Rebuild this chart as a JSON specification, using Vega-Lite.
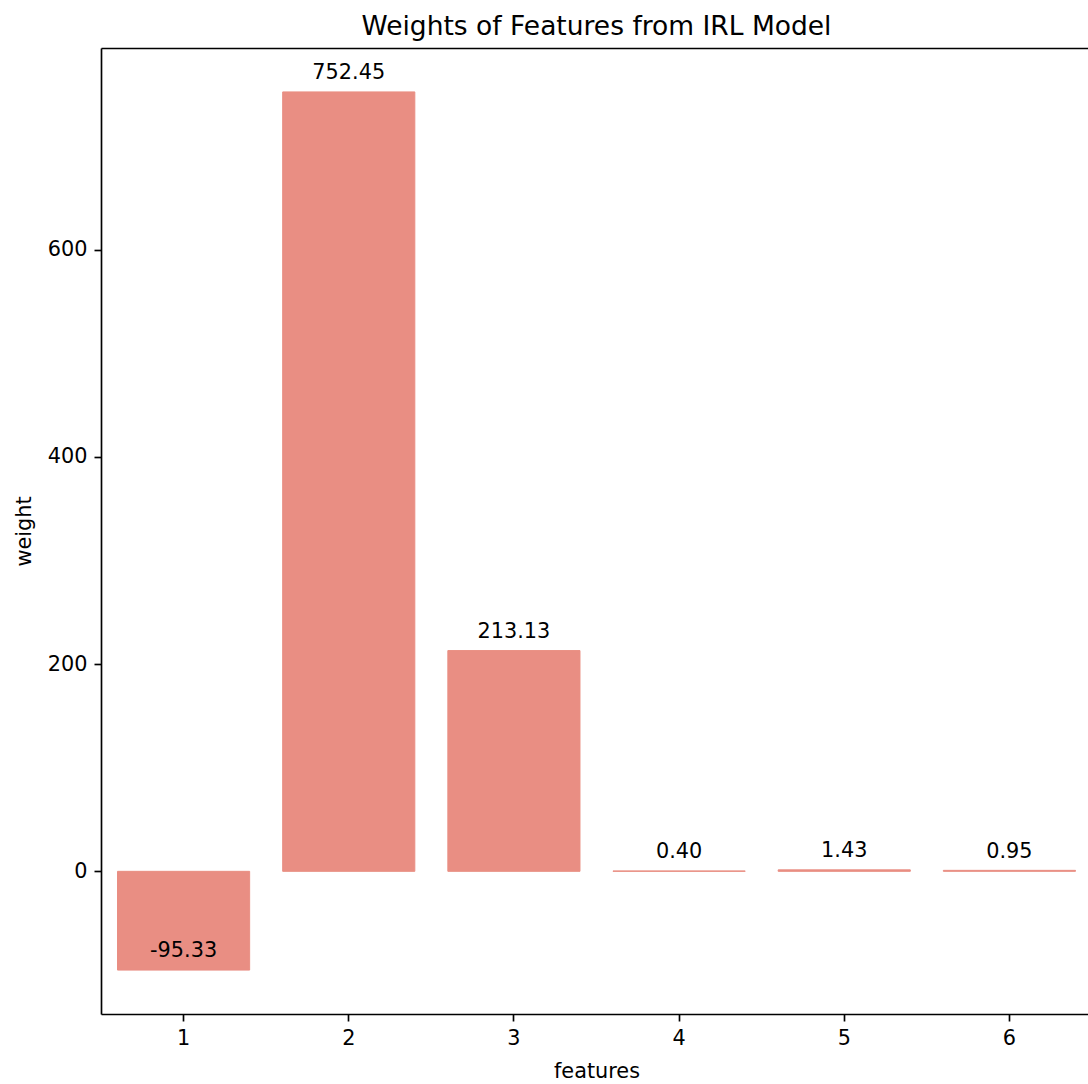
{
  "$schema": "https://vega.github.io/schema/vega-lite/v6.json",
  "autosize": {"type": "none"},
  "padding": {"left": 101, "top": 48, "right": 0, "bottom": 70},
  "width": 987,
  "height": 966,
  "background": "white",
  "config": {
    "view": {"stroke": null},
    "font": "DejaVu Sans",
    "locale": {
      "number": {"decimal": ".", "thousands": ",", "grouping": [3], "currency": ["$", ""], "minus": "-"}
    },
    "axis": {
      "grid": false,
      "domainColor": "#000000",
      "domainWidth": 1.67,
      "tickColor": "#000000",
      "tickWidth": 1.67,
      "tickSize": 7,
      "labelPadding": 7,
      "labelFont": "DejaVu Sans",
      "labelFontSize": 20.8,
      "labelColor": "#000000",
      "titleFont": "DejaVu Sans",
      "titleFontSize": 20.8,
      "titleFontWeight": "normal",
      "titleColor": "#000000"
    }
  },
  "title": {
    "text": "Weights of Features from IRL Model",
    "font": "DejaVu Sans",
    "fontSize": 26.5,
    "fontWeight": "normal",
    "color": "#000000",
    "anchor": "middle",
    "offset": 8,
    "dx": 2
  },
  "data": {
    "values": [
      {"feature": "1", "weight": -95.33},
      {"feature": "2", "weight": 752.45},
      {"feature": "3", "weight": 213.13},
      {"feature": "4", "weight": 0.40},
      {"feature": "5", "weight": 1.43},
      {"feature": "6", "weight": 0.95}
    ]
  },
  "encoding": {
    "x": {
      "field": "feature",
      "type": "nominal",
      "sort": null,
      "scale": {"type": "band", "paddingInner": 0.2, "paddingOuter": 0.1, "range": [0, 991]}
    },
    "y": {
      "field": "weight",
      "type": "quantitative",
      "scale": {"domain": [-137.72, 794.84], "nice": false, "zero": false}
    }
  },
  "layer": [
    {
      "mark": {"type": "bar", "color": "#E98E83", "stroke": "#E98E83", "strokeWidth": 1},
      "encoding": {
        "x": {
          "field": "feature",
          "type": "nominal",
          "sort": null,
          "axis": {"orient": "bottom", "title": "features", "labelAngle": 0, "titlePadding": 14}
        },
        "y": {
          "field": "weight",
          "type": "quantitative",
          "axis": {"orient": "left", "title": "weight", "values": [0, 200, 400, 600], "titlePadding": 13}
        }
      }
    },
    {
      "mark": {"type": "text", "baseline": "middle", "align": "center", "dy": -18.75, "fontSize": 20.8, "color": "#000000", "font": "DejaVu Sans"},
      "encoding": {
        "x": {
          "field": "feature",
          "type": "nominal",
          "sort": null,
          "axis": {"orient": "top", "labels": false, "ticks": false, "title": null, "domain": true}
        },
        "text": {"field": "weight", "type": "quantitative", "format": ".2f"}
      }
    }
  ],
  "resolve": {"axis": {"x": "independent"}}
}
